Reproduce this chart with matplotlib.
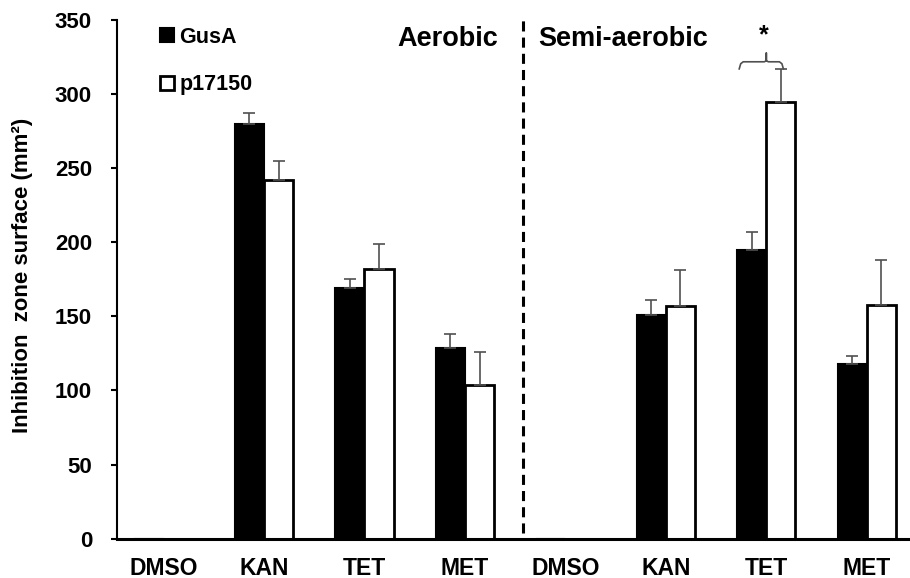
import matplotlib
matplotlib.use('Agg')
from matplotlib import pyplot as plt
import numpy as np

plt.rcParams['font.family'] = ['Liberation Sans', 'DejaVu Sans']
plt.rcParams['font.weight'] = 'bold'

categories = ['DMSO', 'KAN', 'TET', 'MET', 'DMSO', 'KAN', 'TET', 'MET']
gusa = [0, 280, 169, 129, 0, 151, 195, 118]
gusa_err = [0, 7, 6, 9, 0, 10, 12, 5]
p17150 = [0, 242, 182, 104, 0, 157, 295, 158]
p17150_err = [0, 13, 17, 22, 0, 24, 22, 30]

fig = plt.figure(figsize=(9.1, 5.78), dpi=100)
ax = fig.add_axes([0.1286, 0.068, 0.8714, 0.8974])

x = np.arange(len(categories))
w = 0.29
err_kw = dict(ecolor='#505050', elinewidth=1.2, capsize=4, capthick=1.2)

ax.bar(x - w / 2, gusa, w, color='black', edgecolor='black', linewidth=1.5,
       yerr=[np.zeros(len(gusa)), gusa_err], error_kw=err_kw, label='GusA')
ax.bar(x + w / 2, p17150, w, color='white', edgecolor='black', linewidth=2,
       yerr=[np.zeros(len(p17150)), p17150_err], error_kw=err_kw, label='p17150')

ax.set_xlim(-0.463, 7.43)
ax.set_ylim(0, 350)
ax.set_yticks(range(0, 351, 50))
ax.set_xticks(x)
ax.set_xticklabels(categories)
ax.tick_params(axis='x', length=0, pad=13, labelsize=16.5)
ax.tick_params(axis='y', length=4, width=1.5, pad=14, labelsize=16)

for s in ['top', 'right']:
    ax.spines[s].set_visible(False)
ax.spines['left'].set_linewidth(1.5)
ax.spines['bottom'].set_linewidth(2.2)

ax.set_ylabel('Inhibition  zone surface (mm\u00b2)', fontsize=16, fontweight='bold')
ax.yaxis.set_label_coords(-0.106, 0.508)

# divider between conditions
ax.plot([3.58, 3.58], [4, 352], color='black', lw=2.2, dashes=(3.3, 2.0),
        clip_on=False)

ax.text(3.33, 337, 'Aerobic', fontsize=19.5, fontweight='bold', ha='right', va='center')
ax.text(3.73, 337, 'Semi-aerobic', fontsize=19.5, fontweight='bold', ha='left', va='center')

# significance bracket on semi-aerobic TET
bx = [5.73, 5.745, 5.77, 5.98, 6.0, 6.0, 6.0, 6.02, 6.13, 6.155, 6.17]
by = [317, 320.5, 321.8, 321.8, 322.5, 327.7, 322.5, 321.8, 321.8, 320.5, 317]
ax.plot(bx, by, color='#505050', lw=1.2, clip_on=False)
ax.text(5.97, 340, '*', fontsize=18, fontweight='bold', ha='center', va='center')

ax.legend(loc='upper left', bbox_to_anchor=(0.176, 0.954), bbox_transform=fig.transFigure,
          frameon=False, handlelength=0.65, handleheight=0.65,
          handletextpad=0.25, labelspacing=1.25, borderpad=0, borderaxespad=0,
          prop={'weight': 'bold', 'size': 15.5})

fig.savefig('out.png', dpi=100)
